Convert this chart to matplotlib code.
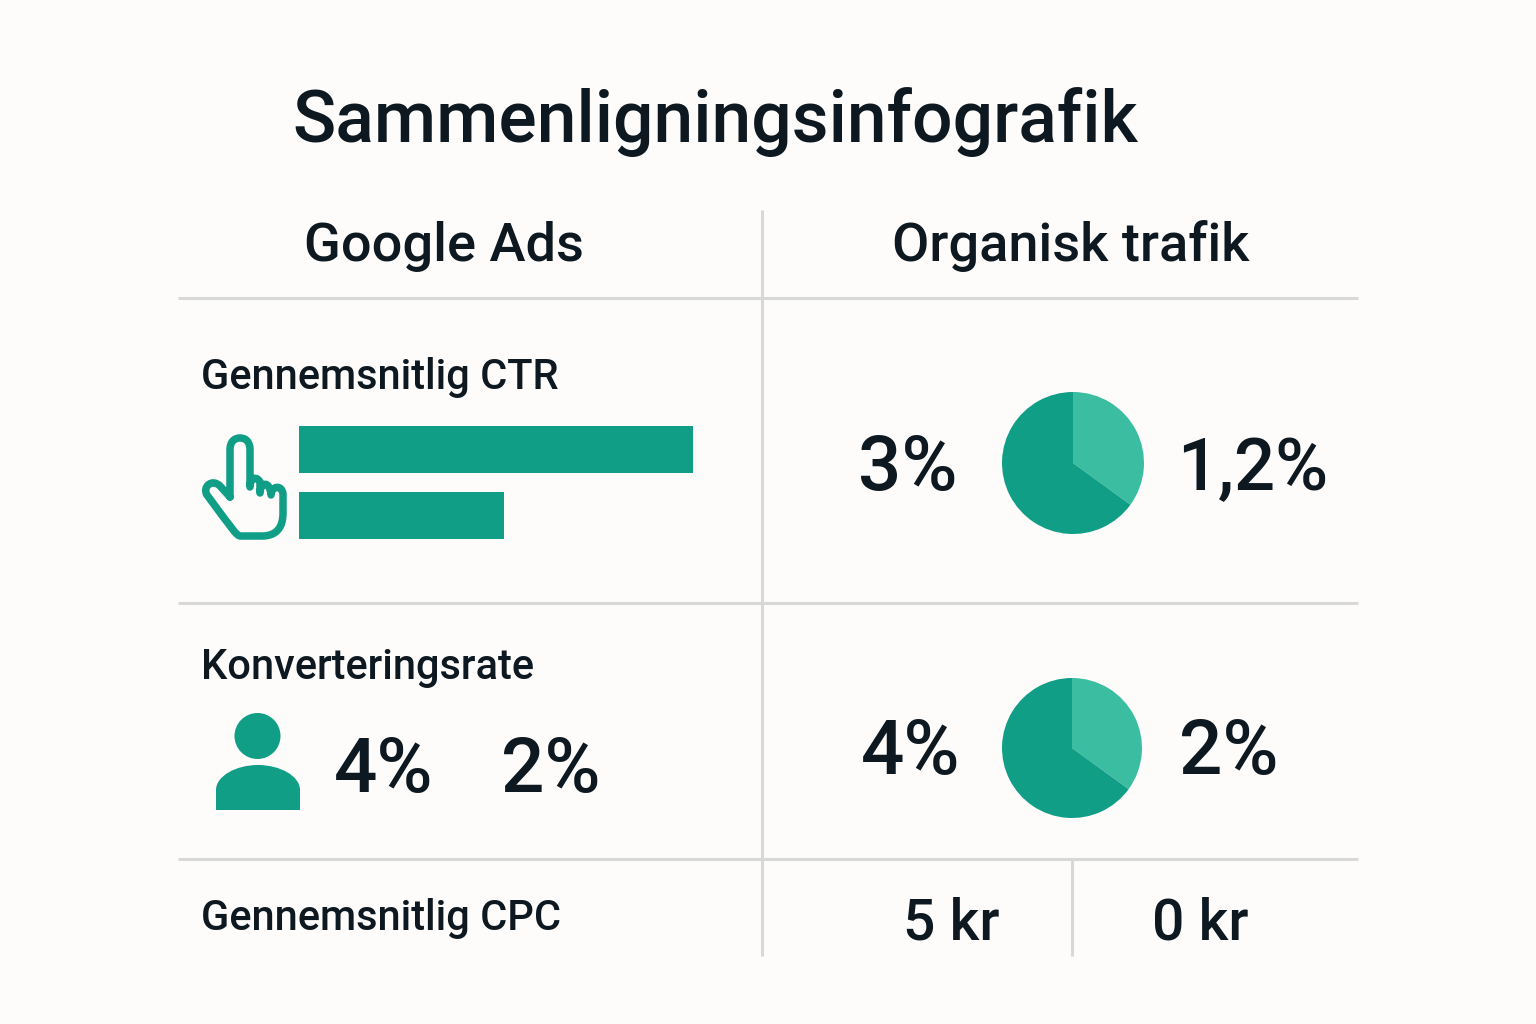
import matplotlib
matplotlib.use('Agg')
import matplotlib.pyplot as plt
from matplotlib.patches import Circle, PathPatch
from matplotlib.path import Path

TITLE = 'Sammenligningsinfografik'
COLUMNS = ['Google Ads', 'Organisk trafik']
METRICS = ['Gennemsnitlig CTR', 'Konverteringsrate', 'Gennemsnitlig CPC']

# bar lengths relative to the longest one, no scale shown in the picture
ctr_bars = [100, 52]
ctr_pie = [35, 65]
conv_pie = [35, 65]
ctr_labels = ['3%', '1,2%']
conv_labels = ['4%', '2%']
cpc_labels = ['5 kr', '0 kr']

BG = '#FDFCFA'
DARK = '#109E87'
LIGHT = '#3BBDA2'
INK = '#0D1820'
GRID = '#D8D8D6'

W, H = 1536, 1024
plt.rcParams['font.family'] = ['Roboto', 'DejaVu Sans']

fig = plt.figure(figsize=(W / 100, H / 100), dpi=100, facecolor=BG)
ax = fig.add_axes([0, 0, 1, 1])
ax.set_xlim(0, W)
ax.set_ylim(H, 0)
ax.axis('off')


def label(x, y, s, size, weight=500, ha='left'):
    ax.text(x, y, s, fontsize=size, fontweight=weight, color=INK, ha=ha, va='baseline')


def draw_pie(cx, cy, r, values):
    pie_ax = fig.add_axes([(cx - r) / W, 1 - (cy + r) / H, 2 * r / W, 2 * r / H])
    pie_ax.pie(values, colors=[LIGHT, DARK], startangle=90, counterclock=False, radius=1)
    pie_ax.set_xlim(-1, 1)
    pie_ax.set_ylim(-1, 1)


# table lines
for y in (298, 603, 859):
    ax.plot([178, 1358], [y, y], color=GRID, lw=2.2, solid_capstyle='butt')
ax.plot([762, 762], [210, 956], color=GRID, lw=2.2, solid_capstyle='butt')
ax.plot([1072, 1072], [859, 956], color=GRID, lw=2.2, solid_capstyle='butt')

# headings
label(292, 142, TITLE, 51.5)
label(444, 261, COLUMNS[0], 39, ha='center')
label(1071, 261, COLUMNS[1], 39, ha='center')
label(201, 389, METRICS[0], 30)
label(201, 679, METRICS[1], 30)
label(201, 930, METRICS[2], 30)

# CTR bars, 394 px for the longest
bar_scale = 394 / max(ctr_bars)
ax.barh([449, 515], [v * bar_scale for v in ctr_bars], left=299, height=47, color=DARK)

# hand icon
hand = [
    (230, 497), (230, 450), (230, 441), (235, 438), (240, 438), (246, 438), (250, 442), (250, 450),
    (250, 487), (250, 477), (257, 476), (260, 482), (260, 493), (260, 482), (270, 480), (271, 495),
    (271, 486), (282, 484), (283, 494), (283, 513), (283, 528), (276, 536), (262, 536), (240, 536),
    (236, 535), (233, 530), (207, 495), (202, 487), (212, 478), (220, 486), (230, 497),
]
codes = [Path.MOVETO, Path.LINETO, Path.CURVE4, Path.CURVE4, Path.CURVE4, Path.CURVE4, Path.CURVE4, Path.CURVE4,
         Path.LINETO, Path.CURVE4, Path.CURVE4, Path.CURVE4, Path.LINETO, Path.CURVE4, Path.CURVE4, Path.CURVE4,
         Path.CURVE4, Path.CURVE4, Path.CURVE4, Path.LINETO, Path.CURVE4, Path.CURVE4, Path.CURVE4, Path.LINETO,
         Path.CURVE4, Path.CURVE4, Path.CURVE4, Path.CURVE4, Path.CURVE4, Path.CURVE4, Path.LINETO]
ax.add_patch(PathPatch(Path(hand, codes), fill=False, edgecolor=DARK, lw=5.4, joinstyle='round', capstyle='round'))

# person icon
ax.add_patch(Circle((257.5, 736), 23, color=DARK, lw=0))
body = [(216, 810), (216, 790), (216, 776), (236, 765), (258, 765), (280, 765), (300, 776), (300, 790), (300, 810), (216, 810)]
body_codes = [Path.MOVETO, Path.LINETO, Path.CURVE4, Path.CURVE4, Path.CURVE4, Path.CURVE4, Path.CURVE4, Path.CURVE4,
              Path.LINETO, Path.CLOSEPOLY]
ax.add_patch(PathPatch(Path(body, body_codes), facecolor=DARK, edgecolor='none'))

# values
label(858, 490, ctr_labels[0], 55)
label(1177, 490, ctr_labels[1], 52)
label(334, 792, conv_labels[0], 55)
label(501, 792, conv_labels[1], 55)
label(861, 774, conv_labels[0], 55)
label(1179, 774, conv_labels[1], 55)
label(951, 939, cpc_labels[0], 41, ha='center')
label(1200, 939, cpc_labels[1], 41, ha='center')

draw_pie(1073, 463, 71, ctr_pie)
draw_pie(1072, 748, 70, conv_pie)

fig.savefig('out.png', dpi=100, facecolor=BG)
